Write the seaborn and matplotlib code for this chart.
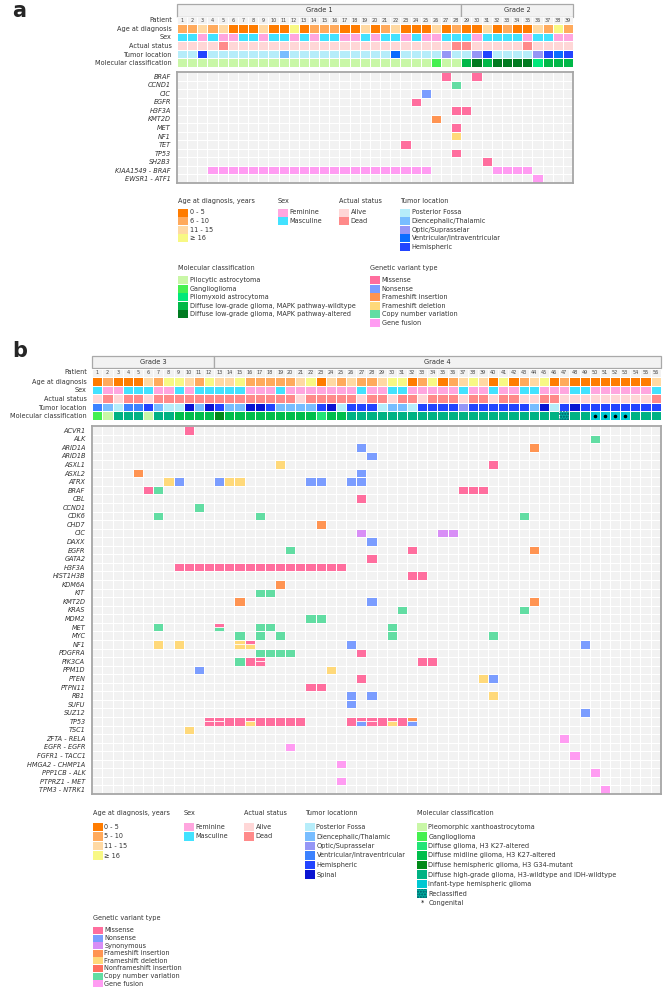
import numpy as np
import matplotlib
matplotlib.use("Agg")
import matplotlib.pyplot as plt
import seaborn as sns
from matplotlib.colors import ListedColormap
from matplotlib.patches import Rectangle

sns.set_theme(style="white")
plt.rcParams['font.family'] = ['DejaVu Sans']

# ---------------- shared categories ----------------
variant_codes = ["M", "N", "S", "FI", "FD", "NFI", "CNV", "F"]
variant_names = ["Missense", "Nonsense", "Synonymous", "Frameshift insertion",
                 "Frameshift deletion", "Nonframeshift insertion",
                 "Copy number variation", "Gene fusion"]
variant_colors = ["#FF6E9E", "#7B9DFF", "#D88EF6", "#FF9452",
                  "#FFD97A", "#FF6F5E", "#62DDA3", "#FF9CF2"]

age_colors = ["#FF7C00", "#FFAA5C", "#FFD9A3", "#F8F884"]
sex_levels = ["Feminine", "Masculine"]
sex_colors = ["#FFA6DF", "#42E2FF"]
status_levels = ["Alive", "Dead"]
status_colors = ["#FFD7D7", "#FF8A8A"]
clin_row_labels = ["Age at diagnosis", "Sex", "Actual status",
                   "Tumor location", "Molecular classification"]

# ---------------- panel a data ----------------
a_n_patients = 39
a_grade_labels = ["Grade 1", "Grade 2"]
a_grade_sizes = [28, 11]
a_age_levels = ["0 - 5", "6 - 10", "11 - 15", "\u2265 16"]
a_age = [1, 1, 2, 1, 2, 0, 0, 0, 2, 0, 0, 3, 0, 1, 1, 1, 0, 0, 2, 0,
         1, 2, 0, 0, 0, 2, 0, 1, 0, 0, 2, 0, 1, 0, 0, 2, 1, 3, 1]
a_sex = [1, 1, 0, 1, 0, 0, 1, 1, 0, 1, 1, 0, 1, 0, 1, 1, 0, 0, 1, 0,
         1, 1, 0, 1, 0, 0, 1, 1, 1, 0, 1, 1, 1, 1, 0, 1, 1, 0, 0]
a_status = [0, 0, 0, 0, 1, 0, 0, 0, 0, 0, 0, 0, 0, 0, 0, 0, 0, 0, 0, 0,
            0, 0, 0, 0, 0, 0, 0, 1, 1, 0, 0, 0, 0, 0, 1, 0, 0, 0, 0]
a_tumor_levels = ["Posterior Fossa", "Diencephalic/Thalamic", "Optic/Suprasselar",
                  "Ventricular/Intraventricular", "Hemispheric"]
a_tumor_colors = ["#B6EDFA", "#78BDFF", "#9596F6", "#0A6CFF", "#2244FF"]
a_tumor = [0, 0, 4, 0, 0, 0, 0, 0, 0, 0, 1, 0, 0, 0, 0, 0, 0, 0, 0, 0,
           0, 3, 0, 0, 0, 0, 2, 0, 0, 2, 4, 0, 0, 0, 0, 2, 4, 3, 4]
a_mol_levels = ["Pilocytic astrocytoma", "Ganglioglioma", "Pilomyxoid astrocytoma",
                "Diffuse low-grade glioma, MAPK pathway-wildtype",
                "Diffuse low-grade glioma, MAPK pathway-altered"]
a_mol_colors = ["#C9F7A7", "#45F050", "#00E87A", "#00B848", "#007A20"]
a_mol = [0, 0, 0, 0, 0, 0, 0, 0, 0, 0, 0, 0, 0, 0, 0, 0, 0, 0, 0, 0,
         0, 0, 0, 0, 0, 1, 0, 0, 3, 4, 3, 4, 4, 4, 4, 2, 3, 3, 3]
a_genes = ["BRAF", "CCND1", "CIC", "EGFR", "H3F3A", "KMT2D", "MET", "NF1",
           "TET", "TP53", "SH2B3", "KIAA1549 - BRAF", "EWSR1 - ATF1"]
a_variants = {
    "BRAF": [(27, "M"), (30, "M")],
    "CCND1": [(28, "CNV")],
    "CIC": [(25, "N")],
    "EGFR": [(24, "M")],
    "H3F3A": [(28, "M"), (29, "M")],
    "KMT2D": [(26, "FI")],
    "MET": [(28, "M")],
    "NF1": [(28, "FD")],
    "TET": [(23, "M")],
    "TP53": [(28, "M")],
    "SH2B3": [(31, "M")],
    "KIAA1549 - BRAF": [(p, "F") for p in [4, 5, 6, 7, 8, 9, 10, 11, 12, 13, 14, 15, 16,
                                            17, 18, 19, 20, 21, 22, 23, 24, 25,
                                            32, 33, 34, 35]],
    "EWSR1 - ATF1": [(36, "F")],
}
a_legend_variants = ["M", "N", "FI", "FD", "CNV", "F"]

# ---------------- panel b data ----------------
b_n_patients = 56
b_grade_labels = ["Grade 3", "Grade 4"]
b_grade_sizes = [12, 44]
b_age_levels = ["0 - 5", "5 - 10", "11 - 15", "\u2265 16"]
b_age = [0, 1, 0, 0, 0, 2, 1, 3, 3, 2, 1, 3, 2, 2, 3, 1, 1, 1, 1, 1,
         2, 3, 0, 2, 1, 2, 1, 1, 2, 3, 3, 0, 1, 3, 0, 1, 2, 3, 2, 0,
         3, 0, 1, 2, 3, 0, 1, 0, 0, 0, 0, 0, 0, 0, 0, 2]
b_sex = [1, 0, 0, 1, 1, 1, 0, 0, 1, 0, 1, 1, 1, 1, 1, 0, 0, 0, 1, 0,
         0, 0, 0, 0, 0, 0, 1, 0, 0, 1, 1, 0, 0, 0, 0, 0, 1, 0, 0, 1,
         0, 0, 1, 1, 0, 0, 0, 1, 1, 0, 0, 0, 0, 0, 0, 1]
b_status = [0, 1, 0, 1, 1, 0, 1, 1, 1, 1, 1, 1, 1, 1, 1, 1, 1, 1, 1, 1,
            0, 1, 1, 1, 1, 1, 0, 1, 1, 0, 1, 1, 0, 1, 1, 1, 0, 1, 1, 0,
            1, 1, 0, 0, 1, 1, 0, 0, 0, 0, 0, 0, 0, 0, 0, 1]
b_tumor_levels = ["Posterior Fossa", "Diencephalic/Thalamic", "Optic/Suprasselar",
                  "Ventricular/Intraventricular", "Hemispheric", "Spinal"]
b_tumor_colors = ["#B6EDFA", "#78BDFF", "#9596F6", "#3C82FF", "#2244FF", "#0A14D2"]
b_tumor = [3, 1, 0, 3, 3, 4, 1, 0, 0, 5, 1, 5, 4, 1, 1, 5, 5, 4, 1, 1,
           1, 1, 4, 5, 0, 4, 4, 4, 0, 1, 1, 0, 4, 4, 4, 4, 2, 4, 4, 4,
           4, 4, 4, 1, 5, 0, 4, 5, 4, 4, 4, 4, 4, 4, 4, 4]
b_mol_levels = ["Pleomorphic xanthoastrocytoma", "Ganglioglioma",
                "Diffuse glioma, H3 K27-altered", "Diffuse midline glioma, H3 K27-altered",
                "Diffuse hemispheric glioma, H3 G34-mutant",
                "Diffuse high-grade glioma, H3-wildtype and IDH-wildtype",
                "Infant-type hemispheric glioma", "Reclassified"]
b_mol_colors = ["#C9F7A7", "#45F050", "#22E477", "#00BE4C", "#008A18",
                "#00B283", "#00C8D2", "#00AFA0"]
b_mol = [1, 0, 5, 5, 5, 0, 5, 5, 3, 3, 3, 3, 4, 3, 3, 3, 3, 3, 3, 3,
         3, 3, 2, 3, 3, 5, 5, 5, 5, 5, 5, 5, 5, 5, 5, 5, 5, 5, 5, 5,
         5, 5, 5, 5, 5, 5, 7, 5, 5, 6, 6, 6, 6, 5, 5, 5]
b_reclassified = [47]
b_congenital = [50, 51, 52, 53]
b_genes = ["ACVR1", "ALK", "ARID1A", "ARID1B", "ASXL1", "ASXL2", "ATRX", "BRAF",
           "CBL", "CCND1", "CDK6", "CHD7", "CIC", "DAXX", "EGFR", "GATA2", "H3F3A",
           "HIST1H3B", "KDM6A", "KIT", "KMT2D", "KRAS", "MDM2", "MET", "MYC", "NF1",
           "PDGFRA", "PIK3CA", "PPM1D", "PTEN", "PTPN11", "RB1", "SUFU", "SUZ12",
           "TP53", "TSC1", "ZFTA - RELA", "EGFR - EGFR", "FGFR1 - TACC1",
           "HMGA2 - CHMP1A", "PPP1CB - ALK", "PTPRZ1 - MET", "TPM3 - NTRK1"]
b_variants = {
    "ACVR1": [(10, "M")],
    "ALK": [(50, "CNV")],
    "ARID1A": [(27, "N"), (44, "FI")],
    "ARID1B": [(28, "N")],
    "ASXL1": [(19, "FD"), (40, "M")],
    "ASXL2": [(5, "FI"), (27, "N")],
    "ATRX": [(8, "FD"), (9, "N"), (13, "N"), (14, "FD"), (15, "FD"), (22, "N"),
             (23, "N"), (26, "N"), (27, "N")],
    "BRAF": [(6, "M"), (7, "CNV"), (37, "M"), (38, "M"), (39, "M")],
    "CBL": [(27, "M")],
    "CCND1": [(11, "CNV")],
    "CDK6": [(7, "CNV"), (17, "CNV"), (43, "CNV")],
    "CHD7": [(23, "FI")],
    "CIC": [(27, "S"), (35, "S"), (36, "S")],
    "DAXX": [(28, "N")],
    "EGFR": [(20, "CNV"), (32, "M"), (44, "FI")],
    "GATA2": [(28, "M")],
    "H3F3A": [(p, "M") for p in [9, 10, 11, 12, 13, 14, 15, 16, 17, 18, 19, 20,
                                  21, 22, 23, 24, 25]],
    "HIST1H3B": [(32, "M"), (33, "M")],
    "KDM6A": [(19, "FI")],
    "KIT": [(17, "CNV"), (18, "CNV")],
    "KMT2D": [(15, "FI"), (28, "N"), (44, "FI")],
    "KRAS": [(31, "CNV"), (43, "CNV")],
    "MDM2": [(22, "CNV"), (23, "CNV")],
    "MET": [(7, "CNV"), (13, "M"), (13, "CNV"), (17, "CNV"), (18, "CNV"), (30, "CNV")],
    "MYC": [(15, "CNV"), (17, "CNV"), (19, "CNV"), (30, "CNV"), (40, "CNV")],
    "NF1": [(7, "FD"), (9, "FD"), (15, "FD"), (15, "FD"), (16, "M"), (16, "FD"),
            (26, "N"), (49, "N")],
    "PDGFRA": [(17, "CNV"), (18, "CNV"), (19, "CNV"), (20, "CNV"), (27, "M")],
    "PIK3CA": [(15, "CNV"), (16, "M"), (17, "M"), (17, "M"), (33, "M"), (34, "M")],
    "PPM1D": [(11, "N"), (24, "FD")],
    "PTEN": [(27, "M"), (39, "FD"), (40, "N")],
    "PTPN11": [(22, "M"), (23, "M")],
    "RB1": [(26, "N"), (28, "N"), (40, "FD")],
    "SUFU": [(26, "N")],
    "SUZ12": [(49, "N")],
    "TP53": [(12, "M"), (12, "M"), (13, "M"), (13, "M"), (14, "M"), (15, "M"),
             (16, "M"), (16, "FD"), (17, "M"), (18, "M"), (19, "M"), (20, "M"),
             (21, "M"), (26, "M"), (27, "M"), (27, "N"), (28, "M"), (28, "M"),
             (29, "M"), (30, "M"), (30, "FD"), (31, "M"), (32, "FI"), (32, "N")],
    "TSC1": [(10, "FD")],
    "ZFTA - RELA": [(47, "F")],
    "EGFR - EGFR": [(20, "F")],
    "FGFR1 - TACC1": [(48, "F")],
    "HMGA2 - CHMP1A": [(25, "F")],
    "PPP1CB - ALK": [(50, "F")],
    "PTPRZ1 - MET": [(25, "F")],
    "TPM3 - NTRK1": [(51, "F")],
}
b_legend_variants = ["M", "N", "S", "FI", "FD", "NFI", "CNV", "F"]

# ---------------- figure ----------------
W, H = 663, 991
fig = plt.figure(figsize=(W / 100, H / 100), dpi=100)
TXT = "#333333"
FS = 4.7


def px_ax(x0, y0, x1, y1):
    return fig.add_axes([x0 / W, 1 - y1 / H, (x1 - x0) / W, (y1 - y0) / H])


def draw_header(x0, x1, ytop, ymid, ybot, n, grade_labels, grade_sizes, label_x):
    ax = px_ax(x0, ytop, x1, ybot)
    ax.set_xlim(0, n)
    ax.set_ylim(ybot - ytop, 0)
    ax.axis("off")
    gh = ymid - ytop
    start = 0
    for lab, size in zip(grade_labels, grade_sizes):
        ax.add_patch(Rectangle((start, 0), size, gh, fc="#F2F2F2", ec="#A9A9A9",
                               lw=0.9, clip_on=False))
        ax.text(start + size / 2, gh / 2, lab, ha="center", va="center",
                fontsize=4.8, color=TXT)
        start += size
    nh = ybot - ymid
    for i in range(n):
        ax.add_patch(Rectangle((i, gh + 0.5), 1, nh - 0.5, fc="#F2F2F2", ec="white", lw=0.6))
        ax.text(i + 0.5, gh + 0.5 + (nh - 0.5) / 2, str(i + 1), ha="center", va="center",
                fontsize=3.5, color="#444444")
    fig.text(label_x / W, 1 - (ymid + nh / 2) / H, "Patient", ha="right", va="center",
             fontsize=FS, color=TXT)


def draw_clin(x0, x1, y0, y1, rows, palettes, pad):
    offsets = np.cumsum([0] + [len(p) for p in palettes[:-1]])
    mat = np.array([np.array(r) + o for r, o in zip(rows, offsets)])
    allcols = [c for p in palettes for c in p]
    ax = px_ax(x0, y0, x1, y1)
    sns.heatmap(mat, cmap=ListedColormap(allcols), vmin=-0.5, vmax=len(allcols) - 0.5,
                cbar=False, linewidths=0.7, linecolor="white", xticklabels=False,
                yticklabels=False, ax=ax)
    ax.set_yticks(np.arange(len(rows)) + 0.5)
    ax.set_yticklabels(clin_row_labels, rotation=0, fontsize=FS, color=TXT)
    ax.tick_params(axis="y", length=0, pad=pad)
    return ax


def draw_genes(x0, x1, y0, y1, genes, variants, n, pad):
    mat = np.zeros((len(genes), n))
    splits = []
    for gi, g in enumerate(genes):
        seen = set()
        for p, t in variants.get(g, []):
            code = variant_codes.index(t) + 1
            if p in seen:
                splits.append((gi, p - 1, code))
            else:
                mat[gi, p - 1] = code
                seen.add(p)
    ax = px_ax(x0, y0, x1, y1)
    sns.heatmap(mat, cmap=ListedColormap(["#F2F2F2"] + variant_colors), vmin=-0.5,
                vmax=len(variant_colors) + 0.5, cbar=False, linewidths=0.7,
                linecolor="white", xticklabels=False, yticklabels=False, ax=ax)
    for gi, c, code in splits:
        ax.add_patch(Rectangle((c, gi + 0.5), 1, 0.5, fc=variant_colors[code - 1],
                               ec="white", lw=0.6))
    ax.set_yticks(np.arange(len(genes)) + 0.5)
    ax.set_yticklabels(genes, rotation=0, fontsize=FS, color=TXT, style="italic")
    ax.tick_params(axis="y", length=0, pad=pad)
    for s in ax.spines.values():
        s.set_visible(True)
        s.set_color("#A6A6A6")
        s.set_linewidth(1.3)
    return ax


ov = fig.add_axes([0, 0, 1, 1])
ov.set_xlim(0, W)
ov.set_ylim(H, 0)
ov.axis("off")


def legend(x, ytitle, yfirst, step, title, labels, colors, hatch_idx=None, dot_label=None):
    ov.text(x, ytitle, title, fontsize=FS, color=TXT, ha="left", va="center")
    for i, (lab, col) in enumerate(zip(labels, colors)):
        yc = yfirst + i * step
        r = Rectangle((x, yc - step / 2 + 0.3), 10, step - 0.6, fc=col, ec="none")
        ov.add_patch(r)
        if hatch_idx is not None and i == hatch_idx:
            ov.add_patch(Rectangle((x, yc - step / 2 + 0.3), 10, step - 0.6, fc="none",
                                   ec="#005A66", hatch="......", lw=0))
        ov.text(x + 11.5, yc, lab, fontsize=FS, color=TXT, ha="left", va="center")
    if dot_label is not None:
        yc = yfirst + len(labels) * step
        ov.text(x + 3.5, yc, "*", fontsize=FS, color="black", ha="left", va="center")
        ov.text(x + 11.5, yc, dot_label, fontsize=FS, color=TXT, ha="left", va="center")


# ---------------- panel a ----------------
ax0, ax1 = 177, 573
fig.text(12 / W, 1 - 11 / H, "a", fontsize=15, fontweight="bold", ha="left", va="center")
draw_header(ax0, ax1, 4, 16.5, 24, a_n_patients, a_grade_labels, a_grade_sizes, 172)
draw_clin(ax0, ax1, 24, 67, [a_age, a_sex, a_status, a_tumor, a_mol],
          [age_colors, sex_colors, status_colors, a_tumor_colors, a_mol_colors], 4)
draw_genes(ax0, ax1, 72, 183, a_genes, a_variants, a_n_patients, 4.5)

legend(178, 201, 212.5, 8.6, "Age at diagnosis, years", a_age_levels, age_colors)
legend(278, 201, 212.5, 8.6, "Sex", sex_levels, sex_colors)
legend(339, 201, 212.5, 8.6, "Actual status", status_levels, status_colors)
legend(400, 201, 212.5, 8.6, "Tumor location", a_tumor_levels, a_tumor_colors)
legend(178, 268, 280, 8.6, "Molecular classification", a_mol_levels, a_mol_colors)
legend(370, 268, 280, 8.6, "Genetic variant type",
       [variant_names[variant_codes.index(c)] for c in a_legend_variants],
       [variant_colors[variant_codes.index(c)] for c in a_legend_variants])

# ---------------- panel b ----------------
bx0, bx1 = 92.3, 660.7
fig.text(12 / W, 1 - 351 / H, "b", fontsize=15, fontweight="bold", ha="left", va="center")
draw_header(bx0, bx1, 356, 368, 377, b_n_patients, b_grade_labels, b_grade_sizes, 87)
axc = draw_clin(bx0, bx1, 377, 420, [b_age, b_sex, b_status, b_tumor, b_mol],
                [age_colors, sex_colors, status_colors, b_tumor_colors, b_mol_colors], 4)
for p in b_reclassified:
    axc.add_patch(Rectangle((p - 1, 4), 1, 1, fc="none", ec="#005A66", hatch="......",
                            lw=0))
for p in b_congenital:
    axc.scatter([p - 0.5], [4.5], s=2.5, color="black", zorder=5)
draw_genes(bx0, bx1, 426, 794, b_genes, b_variants, b_n_patients, 5)

legend(93, 813, 827, 9.5, "Age at diagnosis, years", b_age_levels, age_colors)
legend(184, 813, 827, 9.5, "Sex", sex_levels, sex_colors)
legend(244, 813, 827, 9.5, "Actual status", status_levels, status_colors)
legend(305, 813, 827, 9.5, "Tumor locationn", b_tumor_levels, b_tumor_colors)
legend(417, 813, 827, 9.5, "Molecular classification", b_mol_levels, b_mol_colors,
       hatch_idx=7, dot_label="Congenital")
legend(93, 918, 930.5, 7.6, "Genetic variant type",
       [variant_names[variant_codes.index(c)] for c in b_legend_variants],
       [variant_colors[variant_codes.index(c)] for c in b_legend_variants])

fig.savefig("out.png", dpi=100)
